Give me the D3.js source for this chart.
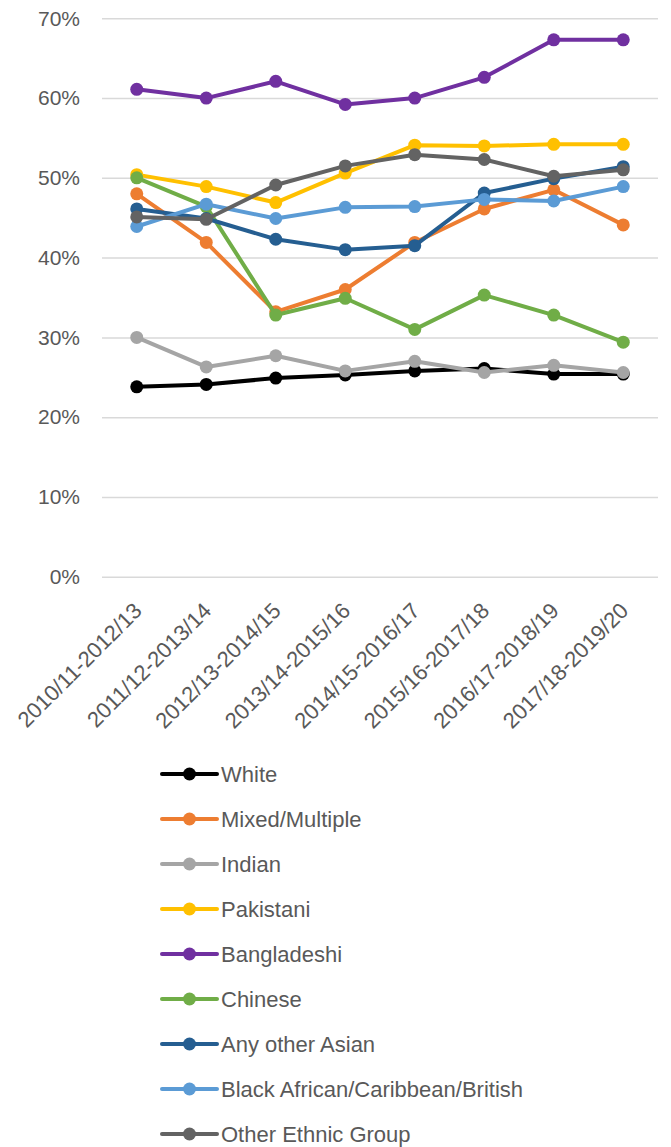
<!DOCTYPE html>
<html>
<head>
<meta charset="utf-8">
<script src="https://cdn.jsdelivr.net/npm/d3@7/dist/d3.min.js"></script>
<style>
  html, body { margin: 0; padding: 0; background: #fff; }
  svg { display: block; }
  text { font-family: "Liberation Sans", Arial, sans-serif; fill: #595959; }
</style>
</head>
<body>
<svg id="chart" width="671" height="1147"></svg>
<script>
const categories = ["2010/11-2012/13","2011/12-2013/14","2012/13-2014/15","2013/14-2015/16",
                    "2014/15-2016/17","2015/16-2017/18","2016/17-2018/19","2017/18-2019/20"];
const seriesNames = ["White","Mixed/Multiple","Indian","Pakistani","Bangladeshi","Chinese",
                     "Any other Asian","Black African/Caribbean/British","Other Ethnic Group"];
const seriesColors = ["#000000","#ED7D31","#A5A5A5","#FFC000","#7030A0","#70AD47",
                      "#255E91","#5B9BD5","#636363"];
const white       = [23.8, 24.1, 24.9, 25.3, 25.8, 26.1, 25.4, 25.4];
const mixed       = [48.0, 41.9, 33.2, 36.0, 41.9, 46.1, 48.5, 44.1];
const indian      = [30.0, 26.3, 27.7, 25.8, 27.0, 25.6, 26.5, 25.6];
const pakistani   = [50.4, 48.9, 46.9, 50.6, 54.1, 54.0, 54.2, 54.2];
const bangladeshi = [61.1, 60.0, 62.1, 59.2, 60.0, 62.6, 67.3, 67.3];
const chinese     = [50.0, 46.4, 32.8, 34.9, 31.0, 35.3, 32.8, 29.4];
const otherAsian  = [46.1, 44.9, 42.3, 41.0, 41.5, 48.1, 49.9, 51.4];
const blackAfr    = [43.9, 46.7, 44.9, 46.3, 46.4, 47.3, 47.1, 48.9];
const otherEthnic = [45.1, 44.8, 49.1, 51.5, 52.9, 52.3, 50.2, 51.0];
const yTicks = [0, 10, 20, 30, 40, 50, 60, 70];

const seriesValues = [white, mixed, indian, pakistani, bangladeshi, chinese, otherAsian, blackAfr, otherEthnic];
const series = seriesNames.map((n, i) => ({name: n, color: seriesColors[i], values: seriesValues[i]}));

const svg = d3.select("#chart");
const plot = {left: 102, right: 658, top: 18.3, bottom: 576.7};

const x = d3.scaleBand().domain(categories).range([plot.left, plot.right]).padding(0);
const y = d3.scaleLinear().domain([0, 70]).range([plot.bottom, plot.top]);
const cx = c => x(c) + x.bandwidth() / 2;

// gridlines
const yAxis = d3.axisLeft(y).tickValues(yTicks).tickFormat(d => d + "%")
  .tickSize(-(plot.right - plot.left)).tickPadding(22);
const gy = svg.append("g").attr("transform", `translate(${plot.left},0)`).call(yAxis);
gy.select(".domain").remove();
gy.selectAll(".tick line").attr("stroke", "#D9D9D9").attr("stroke-width", 1.5);
gy.selectAll(".tick text").attr("font-size", 21).attr("fill", "#595959")
  .attr("font-family", "Liberation Sans, Arial, sans-serif");

// x axis labels
const xAxis = d3.axisBottom(x).tickSize(0).tickPadding(0);
const gx = svg.append("g").attr("transform", `translate(0,${plot.bottom})`).call(xAxis);
gx.select(".domain").remove();
gx.selectAll(".tick text")
  .attr("font-size", 22).attr("fill", "#595959")
  .attr("font-family", "Liberation Sans, Arial, sans-serif")
  .attr("text-anchor", "end")
  .attr("dy", "0.35em")
  .attr("transform", "translate(1,30) rotate(-45)")
  .attr("y", 0).attr("x", 0);

// lines
const line = d3.line().x((d, i) => cx(categories[i])).y(d => y(d));
const g = svg.append("g");
series.forEach(s => {
  g.append("path").datum(s.values).attr("d", line)
    .attr("fill", "none").attr("stroke", s.color).attr("stroke-width", 4)
    .attr("stroke-linejoin", "round").attr("stroke-linecap", "round");
  g.selectAll(null).data(s.values).enter().append("circle")
    .attr("cx", (d, i) => cx(categories[i])).attr("cy", d => y(d))
    .attr("r", 6.5).attr("fill", s.color);
});

// legend
const legend = svg.append("g");
const legY = d3.scalePoint().domain(seriesNames).range([774, 1134]);
series.forEach(s => {
  const ly = legY(s.name);
  const lg = legend.append("g").attr("transform", `translate(0,${ly})`);
  lg.append("line").attr("x1", 162).attr("x2", 217).attr("y1", 0).attr("y2", 0)
    .attr("stroke", s.color).attr("stroke-width", 4).attr("stroke-linecap", "round");
  lg.append("circle").attr("cx", 189.5).attr("cy", 0).attr("r", 6.5).attr("fill", s.color);
  lg.append("text").attr("x", 221).attr("y", 0).attr("dy", "0.35em")
    .attr("font-size", 22).text(s.name);
});
</script>
</body>
</html>
